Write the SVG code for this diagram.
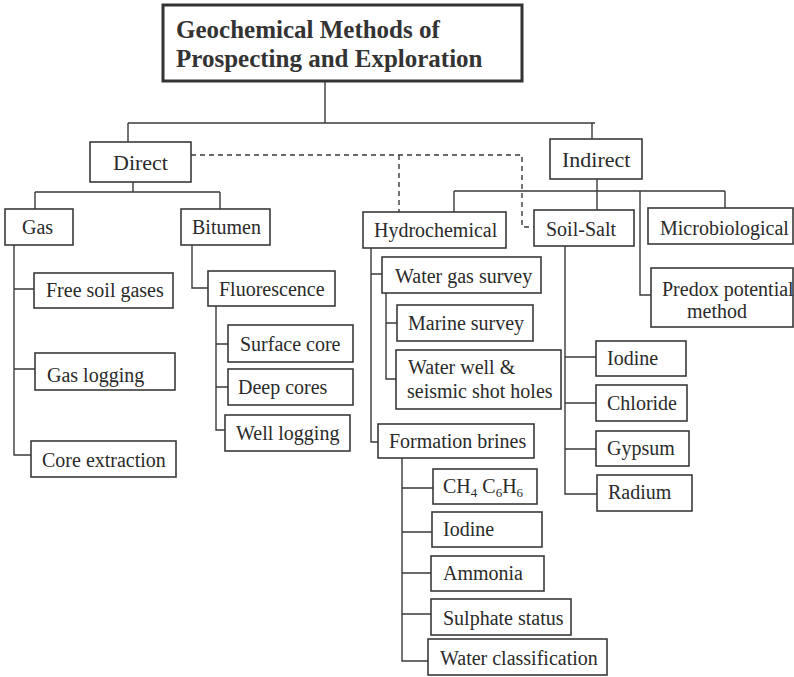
<svg xmlns="http://www.w3.org/2000/svg" width="794" height="677" viewBox="0 0 794 677">
<style>
.b{fill:#fff;stroke:#3a3a3a;stroke-width:1.6}
.t{font-family:"Liberation Serif","Times New Roman",serif;font-size:20px;fill:#2a2a2a}
.big{font-size:22px}
.ti{font-family:"Liberation Serif","Times New Roman",serif;font-size:25px;font-weight:bold;fill:#333}
.c{fill:none;stroke:#3a3a3a;stroke-width:1.4}
.d{fill:none;stroke:#3a3a3a;stroke-width:1.4;stroke-dasharray:5,4}
</style>
<rect width="794" height="677" fill="#fff"/>
<g id="connectors">
<path class="c" d="M325,81V123M128,123H595M128,123V142M592,123V139"/>
<path class="c" d="M133,182V192M35,192H220M35,192V209M220,192V209"/>
<path class="c" d="M14,245V455H31M14,289H34M14,369H35"/>
<path class="c" d="M192,245V288H208"/>
<path class="c" d="M216,306V430H225M216,344H228M216,387H228"/>
<path class="c" d="M597,179V191M454,191H725M454,191V212M597,191V210M725,191V208M640,191V295H651"/>
<path class="d" d="M191,155H522V227H534M399,155V212"/>
<path class="c" d="M371,248V442H378M371,274H382"/>
<path class="c" d="M386,293V379H396M386,323H397"/>
<path class="c" d="M565,246V494H597M565,357H596M565,403H596M565,449H596"/>
<path class="c" d="M402,458V661H428M402,488H433M402,532H432M402,573H431M402,614H431"/>
</g>
<g id="title"><rect x="163" y="5" width="359" height="76" fill="#fff" stroke="#333" stroke-width="3"/>
<text class="ti" x="176" y="38">Geochemical Methods of</text>
<text class="ti" x="176" y="67">Prospecting and Exploration</text></g>
<g id="direct"><rect class="b" x="90" y="142" width="101" height="40"/><text class="t big" x="113" y="170">Direct</text></g>
<g id="indirect"><rect class="b" x="550" y="139" width="92" height="40"/><text class="t big" x="562" y="167">Indirect</text></g>
<g id="gas"><rect class="b" x="5" y="209" width="68" height="36"/><text class="t" x="22" y="234">Gas</text></g>
<g id="bitumen"><rect class="b" x="181" y="209" width="89" height="36"/><text class="t" x="192" y="234">Bitumen</text></g>
<g id="free-soil-gases"><rect class="b" x="34" y="273" width="139" height="35"/><text class="t" x="46" y="297">Free soil gases</text></g>
<g id="gas-logging"><rect class="b" x="35" y="353" width="140" height="37"/><text class="t" x="47" y="382">Gas logging</text></g>
<g id="core-extraction"><rect class="b" x="31" y="441" width="145" height="36"/><text class="t" x="42" y="467">Core extraction</text></g>
<g id="fluorescence"><rect class="b" x="208" y="271" width="127" height="35"/><text class="t" x="219" y="296">Fluorescence</text></g>
<g id="surface-core"><rect class="b" x="228" y="325" width="125" height="37"/><text class="t" x="240" y="351">Surface core</text></g>
<g id="deep-cores"><rect class="b" x="228" y="369" width="125" height="36"/><text class="t" x="238" y="394">Deep cores</text></g>
<g id="well-logging"><rect class="b" x="225" y="415" width="125" height="36"/><text class="t" x="236" y="440">Well logging</text></g>
<g id="hydrochemical"><rect class="b" x="363" y="212" width="143" height="36"/><text class="t" x="374" y="237">Hydrochemical</text></g>
<g id="soil-salt"><rect class="b" x="534" y="210" width="100" height="36"/><text class="t" x="546" y="236">Soil-Salt</text></g>
<g id="microbiological"><rect class="b" x="648" y="208" width="145" height="36"/><text class="t" x="660" y="235">Microbiological</text></g>
<g id="predox"><rect class="b" x="651" y="268" width="142" height="59"/><text class="t" x="662" y="296">Predox potential</text><text class="t" x="687" y="318">method</text></g>
<g id="water-gas-survey"><rect class="b" x="382" y="257" width="159" height="36"/><text class="t" x="395" y="283">Water gas survey</text></g>
<g id="marine-survey"><rect class="b" x="397" y="305" width="136" height="36"/><text class="t" x="408" y="330">Marine survey</text></g>
<g id="water-well"><rect class="b" x="396" y="350" width="165" height="59"/><text class="t" x="408" y="374">Water well &amp;</text><text class="t" x="407" y="398">seismic shot holes</text></g>
<g id="formation-brines"><rect class="b" x="378" y="424" width="156" height="34"/><text class="t" x="389" y="448">Formation brines</text></g>
<g id="iodine-soil"><rect class="b" x="596" y="341" width="90" height="35"/><text class="t" x="607" y="365">Iodine</text></g>
<g id="chloride"><rect class="b" x="596" y="385" width="91" height="36"/><text class="t" x="607" y="410">Chloride</text></g>
<g id="gypsum"><rect class="b" x="596" y="431" width="93" height="35"/><text class="t" x="607" y="455">Gypsum</text></g>
<g id="radium"><rect class="b" x="597" y="475" width="95" height="36"/><text class="t" x="608" y="499">Radium</text></g>
<g id="ch4-c6h6"><rect class="b" x="433" y="469" width="104" height="35"/><text class="t" x="443" y="493">CH<tspan font-size="13" dy="4">4</tspan><tspan dy="-4">  C</tspan><tspan font-size="13" dy="4">6</tspan><tspan dy="-4">H</tspan><tspan font-size="13" dy="4">6</tspan></text></g>
<g id="iodine-brine"><rect class="b" x="432" y="512" width="110" height="35"/><text class="t" x="443" y="536">Iodine</text></g>
<g id="ammonia"><rect class="b" x="431" y="556" width="113" height="35"/><text class="t" x="443" y="580">Ammonia</text></g>
<g id="sulphate-status"><rect class="b" x="431" y="599" width="140" height="36"/><text class="t" x="443" y="625">Sulphate status</text></g>
<g id="water-classification"><rect class="b" x="428" y="639" width="179" height="36"/><text class="t" x="440" y="665">Water classification</text></g>
</svg>
